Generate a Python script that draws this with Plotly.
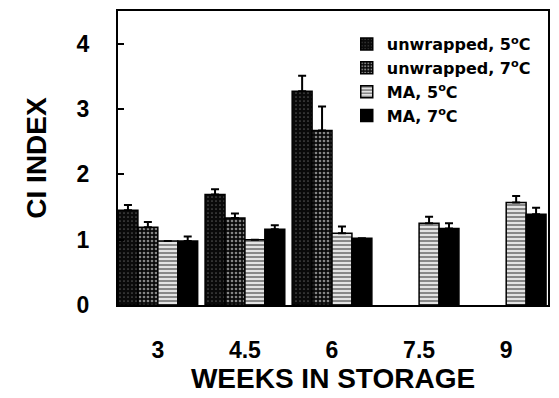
import plotly.graph_objects as go

weeks = [3, 4.5, 6, 7.5, 9]
week_labels = ["3", "4.5", "6", "7.5", "9"]

uw5 = [1.45, 1.69, 3.27, None, None]
uw5_err = [0.08, 0.08, 0.24, 0, 0]
uw7 = [1.19, 1.33, 2.67, None, None]
uw7_err = [0.08, 0.07, 0.37, 0, 0]
ma5 = [0.98, 1.00, 1.10, 1.25, 1.57]
ma5_err = [0.0, 0.0, 0.10, 0.10, 0.10]
ma7 = [0.98, 1.16, 1.02, 1.17, 1.39]
ma7_err = [0.07, 0.06, 0.0, 0.08, 0.10]

names = ["unwrapped, 5<sup>o</sup>C", "unwrapped, 7<sup>o</sup>C", "MA, 5<sup>o</sup>C", "MA, 7<sup>o</sup>C"]

FONT = "Liberation Sans, Arial, sans-serif"

series = [
    (uw5, uw5_err, dict(shape=".", bgcolor="#0a0a0a", fgcolor="#9a9a9a", size=4, solidity=0.15)),
    (uw7, uw7_err, dict(shape=".", bgcolor="#0a0a0a", fgcolor="#ffffff", size=4, solidity=0.35)),
    (ma5, ma5_err, dict(shape="-", bgcolor="#ffffff", fgcolor="#111111", size=4, solidity=0.62)),
    (ma7, ma7_err, dict(shape="", bgcolor="#000000", fgcolor="#000000")),
]

fig = go.Figure()
for (vals, err, pat), name in zip(series, names):
    fig.add_trace(go.Bar(
        x=weeks, y=vals, name=name,
        marker=dict(color="#000000", pattern=pat, line=dict(color="#000000", width=1.5)),
        error_y=dict(type="data", symmetric=False, array=err, arrayminus=[0] * len(err),
                     color="#000000", thickness=2, width=4),
    ))

fig.update_layout(
    width=559, height=398,
    margin=dict(l=118, r=9, t=10, b=93),
    paper_bgcolor="white", plot_bgcolor="white",
    barmode="group", bargap=0.085, bargroupgap=0,
    font=dict(family=FONT, color="#000000"),
    showlegend=True,
    legend=dict(x=0.532, y=0.945, xanchor="left", yanchor="top",
                font=dict(size=16, family="DejaVu Sans, sans-serif", weight="bold"),
                bgcolor="rgba(0,0,0,0)", tracegroupgap=0),
)
fig.update_xaxes(
    range=[2.314, 9.72], tickvals=weeks, ticktext=week_labels,
    showgrid=False, zeroline=False, showline=True, linecolor="black", linewidth=2, mirror=True,
    ticks="", ticklabelstandoff=23,
    tickfont=dict(size=23, family=FONT, weight="bold"),
    title=dict(text="WEEKS IN STORAGE", font=dict(size=28, family=FONT, weight="bold"), standoff=6),
)
fig.update_yaxes(
    range=[0, 4.5], tickvals=[0, 1, 2, 3, 4],
    showgrid=False, zeroline=False, showline=True, linecolor="black", linewidth=2, mirror=True,
    ticks="inside", ticklen=6, tickwidth=1.5, tickcolor="black", ticklabelstandoff=22,
    tickfont=dict(size=23, family=FONT, weight="bold"),
    title=dict(text="CI INDEX", font=dict(size=28, family=FONT, weight="bold"), standoff=22),
)

fig.write_html("out.html")
